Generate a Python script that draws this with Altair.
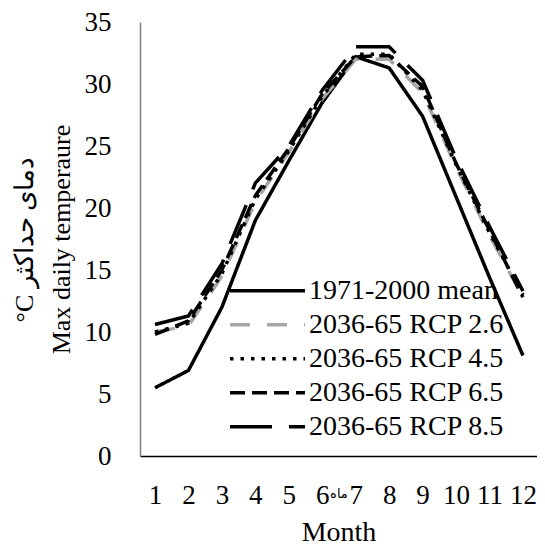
import altair as alt
import pandas as pd

# ---- data ----
months = [1, 2, 3, 4, 5, 6, 7, 8, 9, 10, 11, 12]
series_names = ["1971-2000 mean", "2036-65 RCP 2.6", "2036-65 RCP 4.5",
                "2036-65 RCP 6.5", "2036-65 RCP 8.5"]
mean_1971_2000 = [5.5, 6.9, 12.0, 19.0, 23.8, 28.5, 32.2, 31.3, 27.4, 20.9, 14.4, 8.1]
rcp26 = [10.0, 10.5, 14.5, 20.5, 24.5, 28.8, 32.0, 32.0, 29.3, 23.3, 17.8, 12.8]
rcp45 = [10.0, 10.7, 14.7, 20.7, 24.6, 29.0, 32.4, 32.4, 29.5, 23.5, 18.0, 13.0]
rcp65 = [9.8, 10.9, 15.0, 21.0, 24.8, 29.2, 32.2, 32.3, 29.8, 23.6, 18.2, 12.8]
rcp85 = [10.6, 11.3, 15.5, 22.0, 25.0, 29.5, 33.0, 33.0, 30.3, 24.0, 18.5, 13.3]
y_ticks = [0, 5, 10, 15, 20, 25, 30, 35]
annot_text = ["ماه"]
annot_x = [6.5]
annot_y = [-3.1]

# ---- styles ----
series_colors = ["#000000", "#a6a6a6", "#000000", "#000000", "#000000"]
series_dashes = [[1, 0], [20, 17], [3.5, 7], [15, 7], [42, 17]]

rows = []
for name, vals in zip(series_names, [mean_1971_2000, rcp26, rcp45, rcp65, rcp85]):
    for m, v in zip(months, vals):
        rows.append({"month": m, "temp": v, "series": name})
df = pd.DataFrame(rows)

annot_df = pd.DataFrame({"month": annot_x, "temp": annot_y, "text": annot_text})

legend = alt.Legend(
    orient="none", legendX=88, legendY=252, title=None,
    symbolType="stroke", symbolSize=5625, symbolStrokeWidth=3.5,
    labelFont="Liberation Serif", labelFontSize=28, labelColor="#000000",
    labelOffset=2, rowPadding=0, clipHeight=33.5, labelLimit=400,
)

x_axis = alt.Axis(values=months, format="d", title="Month",
                  labelPadding=26, domainColor="#000000",
                  labelOverlap=False, labelFlush=False,
                  titleFont="Liberation Serif", titleFontSize=28,
                  titleFontWeight="normal", titleColor="#000000",
                  titleBaseline="top", titleY=62, titleAlign="center")
y_axis = alt.Axis(values=y_ticks, format="d",
                  title=["°C دمای حداکثر", "Max daily temperaure"],
                  labelPadding=29, domainColor="#7f7f7f",
                  labelOverlap=False, labelFlush=False,
                  titleFont="Liberation Serif", titleFontSize=26,
                  titleFontWeight="normal", titleColor="#000000",
                  titleAngle=270, titleBaseline="middle",
                  titleAlign="center", titleLineHeight=37,
                  titleX=-116, titleY=217)
x_scale = alt.Scale(domain=[0.552, 12.42], nice=False, zero=False)
y_scale = alt.Scale(domain=[0, 35], nice=False)

lines = alt.Chart(df).mark_line(strokeWidth=3.5).encode(
    x=alt.X("month:Q", scale=x_scale, axis=x_axis),
    y=alt.Y("temp:Q", scale=y_scale, axis=y_axis),
    color=alt.Color("series:N",
                    scale=alt.Scale(domain=series_names, range=series_colors),
                    legend=legend),
    strokeDash=alt.StrokeDash("series:N",
                              scale=alt.Scale(domain=series_names, range=series_dashes),
                              legend=legend),
)

annot = alt.Chart(annot_df).mark_text(
    font="DejaVu Sans", fontSize=13, color="#000000", baseline="middle", align="center"
).encode(
    x=alt.X("month:Q", scale=x_scale, axis=x_axis),
    y=alt.Y("temp:Q", scale=y_scale, axis=y_axis),
    text="text:N",
)

chart = alt.layer(lines, annot).properties(
    width=397, height=434,
    autosize=alt.AutoSizeParams(type="none"),
    padding={"left": 132, "top": 14, "right": 0, "bottom": 89},
).configure_view(stroke=None).configure_axis(
    grid=False, ticks=False, labelFont="Liberation Serif", labelFontSize=27,
    labelColor="#000000", domainWidth=1.5, labelOverlap=False,
)

chart.save("out.html", embed_options={"renderer": "svg", "actions": False})
